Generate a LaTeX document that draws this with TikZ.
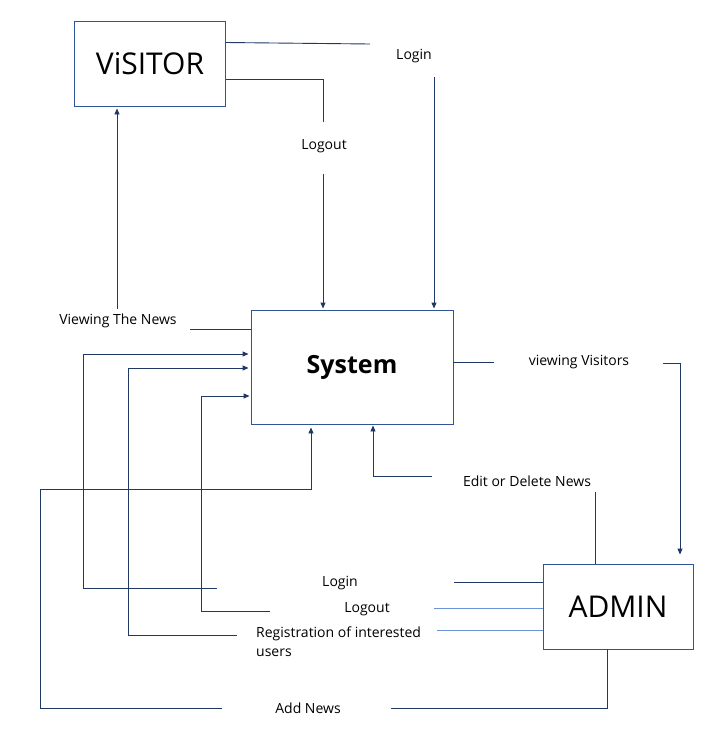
\documentclass[tikz,border=0pt]{standalone}
\usepackage{fontspec}
\setmainfont{Open Sans}
\usetikzlibrary{arrows.meta}
\definecolor{navy}{HTML}{203864}
\definecolor{boxblue}{HTML}{2F5597}
\definecolor{lightblue}{HTML}{6C93D6}
\begin{document}
\begin{tikzpicture}[x=1pt,y=-1pt,
    box/.style={draw=boxblue,line width=0.9pt,inner sep=0pt},
    lbl/.style={inner sep=0pt,font=\fontsize{14}{18}\selectfont},
    ln/.style={draw=navy,line width=0.9pt},
    arr/.style={-{Triangle[length=6pt,width=5pt]}}]
      \useasboundingbox (0,0) rectangle (710,750);
      \node[box,minimum width=151pt,minimum height=85pt,font=\fontsize{30}{36}\selectfont] (visitor) at (150,63.5) {ViSITOR};
      \node[box,minimum width=202pt,minimum height=114pt,font=\fontsize{25}{30}\selectfont\bfseries] (system) at (352,367) {System};
      \node[box,minimum width=150pt,minimum height=85pt,font=\fontsize{30}{36}\selectfont] (admin) at (618,606.5) {ADMIN};
      \node[lbl] (login1) at (414,56) {Login};
      \node[lbl] (logout1) at (324,146) {Logout};
      \node[lbl] (viewnews) at (118,321) {Viewing The News};
      \node[lbl] (viewvis) at (579,362) {viewing Visitors};
      \node[lbl] (editnews) at (527,481) {Edit or Delete News};
      \node[lbl] (login2) at (340,583) {Login};
      \node[lbl] (logout2) at (367,609) {Logout};
      \node[lbl,anchor=west,align=left,font=\fontsize{14}{19}\selectfont] (reg) at (256,642) {Registration of interested\\users};
      \node[lbl] (addnews) at (308,708) {Add News};
      \coordinate (lgA) at (370,44);
      \coordinate (lgB) at (434,77);
      \coordinate (lo1) at (323,122);
      \coordinate (lo2) at (323,174);
      \coordinate (vn1) at (190,329);
      \coordinate (vn2) at (117,309);
      \coordinate (vv1) at (494,362);
      \coordinate (vv2) at (663,363);
      \coordinate (ed1) at (595,492);
      \coordinate (ed2) at (432,476);
      \coordinate (li1) at (217,588);
      \coordinate (li2) at (454,582);
      \coordinate (lo3) at (270,611);
      \coordinate (lo4) at (434,608);
      \coordinate (rg1) at (237,635);
      \coordinate (rg2) at (437,630);
      \coordinate (an1) at (222,708);
      \coordinate (an2) at (391,708);
      \coordinate (c1) at (83,354);
      \coordinate (c2) at (201,396);
      \coordinate (c3) at (128,368);
      \coordinate (c4) at (40,489);
      \draw[ln] ([yshift=21pt]visitor.east) -- (lgA);
      \draw[ln,arr,shorten >=1pt] (lgB) -- (lgB |- system.north);
      \draw[ln] ([yshift=-15.5pt]visitor.east) -| (lo1);
      \draw[ln,arr,shorten >=1pt] (lo2) -- (lo2 |- system.north);
      \draw[ln] (vn1) -- (vn1 -| system.west);
      \draw[ln,arr,shorten >=2pt] (vn2) -- (vn2 |- visitor.south);
      \draw[ln] ([yshift=5pt]system.east) -- (vv1);
      \draw[ln,arr,shorten >=9pt] (vv2) -| ([xshift=62pt]admin.north);
      \draw[ln] (ed1) -- (ed1 |- admin.north);
      \draw[ln,arr,shorten >=1pt] (ed2) -| ([xshift=21pt]system.south);
      \draw[ln] (li2) -- (li2 -| admin.west);
      \draw[ln,arr,shorten >=2pt] (li1) -| (c1) -- (c1 -| system.west);
      \draw[ln,draw=lightblue] (lo4) -- (lo4 -| admin.west);
      \draw[ln,arr,shorten >=1pt] (lo3) -| (c2) -- (c2 -| system.west);
      \draw[ln,draw=lightblue] (rg2) -- (rg2 -| admin.west);
      \draw[ln,arr,shorten >=2pt] (rg1) -| (c3) -- (c3 -| system.west);
      \draw[ln] (an2) -| ([xshift=-11pt]admin.south);
      \draw[ln,arr,shorten >=3pt] (an1) -| (c4) -| ([xshift=-41pt]system.south);
\end{tikzpicture}
\end{document}
